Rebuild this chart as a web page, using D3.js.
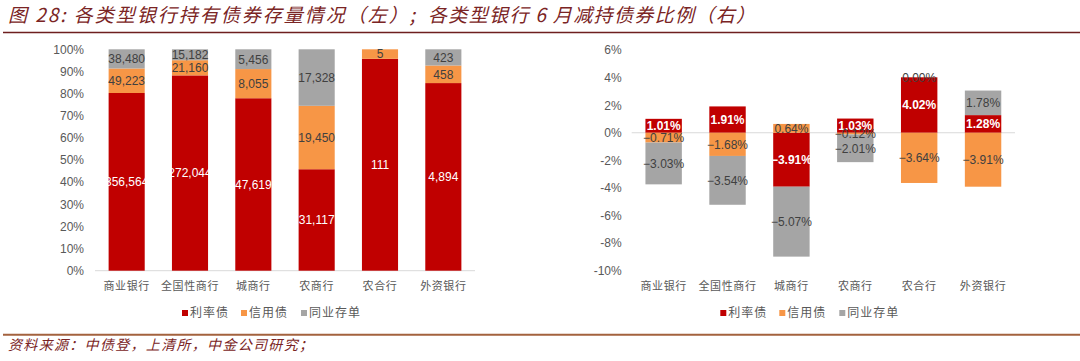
<!DOCTYPE html>
<html><head><meta charset="utf-8">
<script src="https://cdn.jsdelivr.net/npm/d3@7"></script>
<style>body{margin:0;background:#fff;} svg{display:block;}</style>
</head><body><svg id="c" width="1080" height="361"></svg>
<script>
// ---------- data ----------
const categories = ["商业银行","全国性商行","城商行","农商行","农合行","外资银行"];
const seriesNames = ["利率债","信用债","同业存单"];
const seriesKeys = ["rate","credit","ncd"];
// left: holdings (亿元)
const holdRate   = [356564,272044,47619,31117,111,4894];
const holdCredit = [49223,21160,8055,19450,5,458];
const holdNCD    = [38480,15182,5456,17328,0,423];
// right: June reduction ratio (%)
const cutRate   = [1.01,1.91,-3.91,1.03,4.02,1.28];
const cutCredit = [-0.71,-1.68,0.64,-0.12,-3.64,-3.91];
const cutNCD    = [-3.03,-3.54,-5.07,-2.01,0.00,1.78];
const leftTicks  = [0,0.1,0.2,0.3,0.4,0.5,0.6,0.7,0.8,0.9,1.0];
const rightTicks = [-10,-8,-6,-4,-2,0,2,4,6];

const colors = ["#C00000","#F79646","#A5A5A5"];
const labelColors = ["#ffffff","#404040","#404040"];
const latin = "'Liberation Sans', Arial, sans-serif";
const cjk = "'Noto Sans CJK SC', sans-serif";

const svg = d3.select("#c");

// ---------- title / source ----------
svg.append("text").attr("x",8).attr("y",21.5).attr("textLength",407).attr("lengthAdjust","spacing")
  .attr("font-family",cjk).attr("font-size",19).attr("font-style","italic").attr("fill","#7a2424")
  .text("图 28: 各类型银行持有债券存量情况（左）;");
svg.append("text").attr("x",428).attr("y",21.5).attr("textLength",327).attr("lengthAdjust","spacing")
  .attr("font-family",cjk).attr("font-size",19).attr("font-style","italic").attr("fill","#7a2424")
  .text("各类型银行 6 月减持债券比例（右）");
svg.append("line").attr("x1",3).attr("x2",1080).attr("y1",32.5).attr("y2",32.5)
  .attr("stroke","#6e1f1f").attr("stroke-width",1.6);
svg.append("line").attr("x1",3).attr("x2",1080).attr("y1",334.8).attr("y2",334.8)
  .attr("stroke","#a3623e").attr("stroke-width",2);
svg.append("text").attr("x",8).attr("y",349.5).attr("textLength",305).attr("lengthAdjust","spacing")
  .attr("font-family",cjk).attr("font-size",14).attr("font-style","italic").attr("fill","#7a2424")
  .text("资料来源：中债登，上清所，中金公司研究；");

// ---------- helpers ----------
function xAxisLabels(g, x, y0) {
  g.selectAll(".xl").data(categories).join("text")
    .attr("x", d => x(d) + x.bandwidth()/2).attr("y", y0)
    .attr("text-anchor","middle").attr("font-family",cjk).attr("font-size",11)
    .attr("letter-spacing",0.6).attr("fill","#595959").text(d => d);
}
function legend(g, cx) {
  const start = cx - 103;
  const offs = [0, 59, 119];
  const it = g.selectAll(".lg").data(seriesNames).join("g")
    .attr("transform",(d,i)=>`translate(${start+offs[i]},313)`);
  it.append("rect").attr("x",0).attr("y",-3).attr("width",6).attr("height",6)
    .attr("fill",(d,i)=>colors[i]);
  it.append("text").attr("x",8).attr("y",0).attr("dy","0.36em")
    .attr("font-family",cjk).attr("font-size",12).attr("letter-spacing",1)
    .attr("fill","#595959").text(d=>d);
}

// ---------- left chart ----------
{
  const rows = categories.map((c,i)=>({cat:c, rate:holdRate[i], credit:holdCredit[i], ncd:holdNCD[i]}));
  const x = d3.scaleBand().domain(categories).range([95,475]).paddingInner(0.43).paddingOuter(0.215);
  const y = d3.scaleLinear().domain([0,1]).range([270.7,49.3]);
  const stack = d3.stack().keys(seriesKeys).offset(d3.stackOffsetExpand);
  const series = stack(rows);
  const g = svg.append("g");
  g.append("line").attr("x1",95).attr("x2",475).attr("y1",y(0)).attr("y2",y(0))
    .attr("stroke","#d9d9d9").attr("stroke-width",1);
  const ya = d3.axisLeft(y).tickValues(leftTicks).tickFormat(d3.format(".0%")).tickSize(0).tickPadding(0);
  const yg = g.append("g").attr("transform","translate(84,0)").call(ya);
  yg.select(".domain").remove();
  yg.selectAll("text").attr("font-family",latin).attr("font-size",12).attr("fill","#595959");
  series.forEach((s,si)=>{
    g.append("g").selectAll("rect").data(s).join("rect")
      .attr("x",d=>x(d.data.cat)).attr("width",x.bandwidth())
      .attr("y",d=>y(d[1])).attr("height",d=>y(d[0])-y(d[1]))
      .attr("fill",colors[si]);
  });
  const fmt = d3.format(",");
  series.forEach((s,si)=>{
    g.append("g").selectAll("text").data(s.filter(d=>d.data[seriesKeys[si]]>0)).join("text")
      .attr("x",d=>x(d.data.cat)+x.bandwidth()/2)
      .attr("y",d=>(y(d[0])+y(d[1]))/2).attr("dy","0.36em")
      .attr("text-anchor","middle").attr("font-family",latin).attr("font-size",12)
      .attr("fill",labelColors[si]).text(d=>fmt(d.data[seriesKeys[si]]));
  });
  xAxisLabels(g, x, 290);
  legend(g, 285);
}

// ---------- right chart ----------
{
  const rows = categories.map((c,i)=>({cat:c, rate:cutRate[i], credit:cutCredit[i], ncd:cutNCD[i]}));
  // diverging offset where zero values sit on top of the positive stack
  function divergingZeroUp(series, order) {
    const n = series[0].length, m = series.length;
    for (let j=0;j<n;++j){
      let yp=0, yn=0;
      for (let i=0;i<m;++i){
        const d = series[order[i]][j];
        const dy = d[1]-d[0];
        if (dy>=0){ d[0]=yp; d[1]=yp+=dy; }
        else { d[1]=yn; d[0]=yn+=dy; }
      }
    }
  }
  const x = d3.scaleBand().domain(categories).range([631.7,1015]).paddingInner(0.43).paddingOuter(0.215);
  const y = d3.scaleLinear().domain([-10,6]).range([270.7,50]);
  const series = d3.stack().keys(seriesKeys).offset(divergingZeroUp)(rows);
  const g = svg.append("g");
  g.append("line").attr("x1",631.7).attr("x2",1015).attr("y1",y(0)).attr("y2",y(0))
    .attr("stroke","#d9d9d9").attr("stroke-width",1);
  const ya = d3.axisLeft(y).tickValues(rightTicks).tickFormat(d=>d+"%").tickSize(0).tickPadding(0);
  const yg = g.append("g").attr("transform","translate(621.7,0)").call(ya);
  yg.select(".domain").remove();
  yg.selectAll("text").attr("font-family",latin).attr("font-size",12).attr("fill","#595959");
  series.forEach((s,si)=>{
    g.append("g").selectAll("rect").data(s).join("rect")
      .attr("x",d=>x(d.data.cat)).attr("width",x.bandwidth())
      .attr("y",d=>y(d[1])).attr("height",d=>y(d[0])-y(d[1]))
      .attr("fill",colors[si]);
  });
  const fmt = d3.format(".2f");
  series.forEach((s,si)=>{
    g.append("g").selectAll("text").data(s).join("text")
      .attr("x",d=>x(d.data.cat)+x.bandwidth()/2)
      .attr("y",d=>(y(d[0])+y(d[1]))/2).attr("dy","0.36em")
      .attr("text-anchor","middle").attr("font-family",latin).attr("font-size",12)
      .attr("font-weight", si===0 ? "bold" : "normal")
      .attr("fill",labelColors[si]).text(d=>fmt(d.data[seriesKeys[si]])+"%");
  });
  xAxisLabels(g, x, 290);
  legend(g, 823.3);
}
</script></body></html>
